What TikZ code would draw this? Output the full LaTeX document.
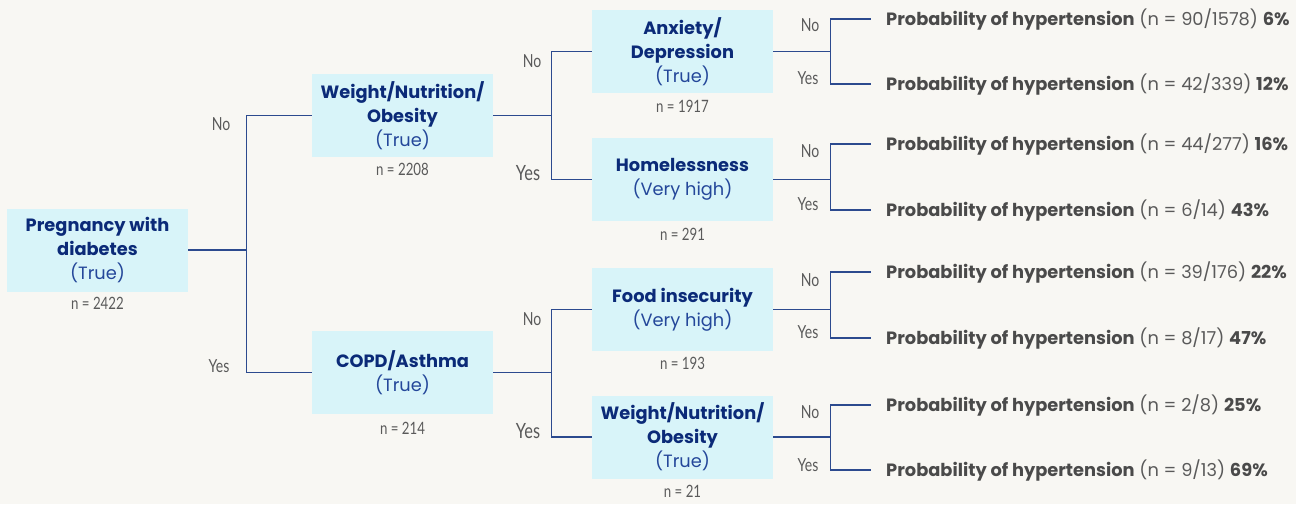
\documentclass[tikz,border=0pt]{standalone}
\usepackage{fontspec}
\setmainfont{Poppins}
\newfontfamily\narrowfont[FakeStretch=0.78]{Lato}
\usetikzlibrary{positioning}
\definecolor{pagebg}{HTML}{F8F7F3}
\definecolor{boxcyan}{HTML}{D8F4F9}
\definecolor{titlenavy}{HTML}{0B2A78}
\definecolor{truetxt}{HTML}{24479A}
\definecolor{linecol}{HTML}{2C4A8E}
\definecolor{graytxt}{HTML}{5A5A5A}
\definecolor{leafdark}{HTML}{4A4A4A}

\begin{document}
\begin{tikzpicture}[x=1pt,y=-1pt,
  splitbox/.style={fill=boxcyan, minimum width=181pt, minimum height=83pt,
    align=center, inner sep=0pt, text=truetxt, font=\fontsize{17.8}{24}\selectfont},
  countlbl/.style={inner sep=0pt, text=graytxt, font=\narrowfont\fontsize{17}{18}\selectfont},
  branchlbl/.style={text=graytxt, font=\narrowfont\fontsize{18}{18}\selectfont},
  bigbranch/.style={branchlbl, font=\narrowfont\fontsize{21}{22}\selectfont},
  leaflbl/.style={anchor=west, inner xsep=15pt, text=graytxt, font=\fontsize{17.8}{20}\selectfont},
  branchline/.style={draw=linecol, line width=1.3pt}]
\fill[pagebg] (0,0) rectangle (1296,504);
\useasboundingbox (0,0) rectangle (1296,504);
% draws split boxes
\node[splitbox] (root) at (97.5,250) {\textcolor{titlenavy}{\bfseries Pregnancy with}\\\textcolor{titlenavy}{\bfseries diabetes}\\(True)};
\node[splitbox] (wno1) at (402.5,115.5) {\textcolor{titlenavy}{\bfseries Weight/Nutrition/}\\\textcolor{titlenavy}{\bfseries Obesity}\\(True)};
\node[splitbox] (copd) at (402.5,372.5) {\textcolor{titlenavy}{\bfseries COPD/Asthma}\\(True)};
\node[splitbox] (anx) at (682.5,51.5) {\textcolor{titlenavy}{\bfseries Anxiety/}\\\textcolor{titlenavy}{\bfseries Depression}\\(True)};
\node[splitbox] (home) at (682.5,179.5) {\textcolor{titlenavy}{\bfseries Homelessness}\\(Very high)};
\node[splitbox] (food) at (682.5,309.5) {\textcolor{titlenavy}{\bfseries Food insecurity}\\(Very high)};
\node[splitbox] (wno2) at (682.5,437) {\textcolor{titlenavy}{\bfseries Weight/Nutrition/}\\\textcolor{titlenavy}{\bfseries Obesity}\\(True)};
% counts under boxes
\node[countlbl, below=5pt of root] (nroot) {n = 2422};
\node[countlbl, below=6pt of wno1] (nwno1) {n = 2208};
\node[countlbl, below=8pt of copd] (ncopd) {n = 214};
\node[countlbl, below=7pt of anx] (nanx) {n = 1917};
\node[countlbl, below=7pt of home] (nhome) {n = 291};
\node[countlbl, below=6pt of food] (nfood) {n = 193};
\node[countlbl, below=6pt of wno2] (nwno2) {n = 21};
% leaves
\node[leaflbl] (leaf1) at (871,19) {\textcolor{leafdark}{\bfseries Probability of hypertension} (n = 90/1578) \textcolor{leafdark}{\bfseries 6\%}};
\node[leaflbl] (leaf2) at (871,84) {\textcolor{leafdark}{\bfseries Probability of hypertension} (n = 42/339) \textcolor{leafdark}{\bfseries 12\%}};
\node[leaflbl] (leaf3) at (871,144) {\textcolor{leafdark}{\bfseries Probability of hypertension} (n = 44/277) \textcolor{leafdark}{\bfseries 16\%}};
\node[leaflbl] (leaf4) at (871,210) {\textcolor{leafdark}{\bfseries Probability of hypertension} (n = 6/14) \textcolor{leafdark}{\bfseries 43\%}};
\node[leaflbl] (leaf5) at (871,272) {\textcolor{leafdark}{\bfseries Probability of hypertension} (n = 39/176) \textcolor{leafdark}{\bfseries 22\%}};
\node[leaflbl] (leaf6) at (871,338) {\textcolor{leafdark}{\bfseries Probability of hypertension} (n = 8/17) \textcolor{leafdark}{\bfseries 47\%}};
\node[leaflbl] (leaf7) at (871,405) {\textcolor{leafdark}{\bfseries Probability of hypertension} (n = 2/8) \textcolor{leafdark}{\bfseries 25\%}};
\node[leaflbl] (leaf8) at (871,470) {\textcolor{leafdark}{\bfseries Probability of hypertension} (n = 9/13) \textcolor{leafdark}{\bfseries 69\%}};
% draws edges
\draw[branchline] (root.east) -- ++(58,0) coordinate (j1);
\draw[branchline] (j1) |- (wno1.west);
\draw[branchline] (j1) |- (copd.west);
\draw[branchline] (wno1.east) -- ++(58,0) coordinate (j2);
\draw[branchline] (j2) |- (anx.west);
\draw[branchline] (j2) |- (home.west);
\draw[branchline] (copd.east) -- ++(58,0) coordinate (j3);
\draw[branchline] (j3) |- (food.west);
\draw[branchline] (j3) |- (wno2.west);
\draw[branchline] (anx.east) -- ++(57,0) coordinate (j4);
\draw[branchline] (j4) |- (leaf1.west);
\draw[branchline] (j4) |- (leaf2.west);
\draw[branchline] (home.east) -- ++(57,0) coordinate (j5);
\draw[branchline] (j5) |- (leaf3.west);
\draw[branchline] (j5) |- (leaf4.west);
\draw[branchline] (food.east) -- ++(57,0) coordinate (j6);
\draw[branchline] (j6) |- (leaf5.west);
\draw[branchline] (j6) |- (leaf6.west);
\draw[branchline] (wno2.east) -- ++(57,0) coordinate (j7);
\draw[branchline] (j7) |- (leaf7.west);
\draw[branchline] (j7) |- (leaf8.west);
% labels branches
\node[branchlbl] (no1) at (221,124) {No};
\node[branchlbl] (yes1) at (219,366) {Yes};
\node[branchlbl] (no2) at (532,61) {No};
\node[bigbranch] (yes2) at (528,173) {Yes};
\node[branchlbl] (no3) at (532,319) {No};
\node[bigbranch] (yes3) at (528,431) {Yes};
\node[branchlbl] (no4) at (810,25) {No};
\node[branchlbl] (yes4) at (808,78) {Yes};
\node[branchlbl] (no5) at (810,151) {No};
\node[branchlbl] (yes5) at (808,204) {Yes};
\node[branchlbl] (no6) at (810,280) {No};
\node[branchlbl] (yes6) at (808,332) {Yes};
\node[branchlbl] (no7) at (810,412) {No};
\node[branchlbl] (yes7) at (808,465) {Yes};
\end{tikzpicture}
\end{document}
